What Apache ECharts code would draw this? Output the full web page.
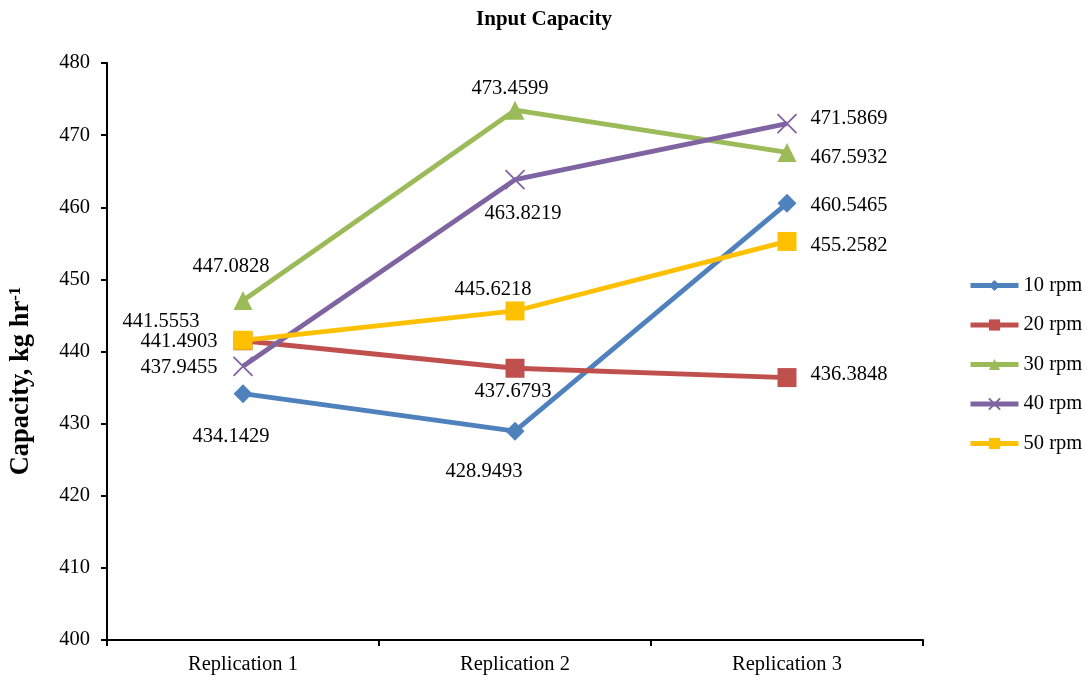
<!DOCTYPE html>
<html>
<head>
<meta charset="utf-8">
<title>Input Capacity</title>
<script src="https://cdn.jsdelivr.net/npm/echarts@6/dist/echarts.min.js"></script>
<style>
  html, body { margin: 0; padding: 0; background: #fff; }
  #chart { width: 1088px; height: 680px; }
</style>
</head>
<body>
<div id="chart"></div>
<script>
// Categories and measured capacities (kg/hr) per drum speed
var categories = ['Replication 1', 'Replication 2', 'Replication 3'];
var seriesNames = ['10 rpm', '20 rpm', '30 rpm', '40 rpm', '50 rpm'];
var rpm10 = [434.1429, 428.9493, 460.5465];
var rpm20 = [441.4903, 437.6793, 436.3848];
var rpm30 = [447.0828, 473.4599, 467.5932];
var rpm40 = [437.9455, 463.8219, 471.5869];
var rpm50 = [441.5553, 445.6218, 455.2582];
var yTicks = { min: 400, max: 480, step: 10 };

// Label placement (pixel offset of each value label from its point)
var labelOffsets = [
  [[-12, 43], [-31, 40], [62, 2]],
  [[-64, 1], [-2, 23], [62, -3]],
  [[-12, -34], [-5, -22], [62, 5]],
  [[-64, 1], [8, 34], [62, -5]],
  [[-82, -19], [-22, -21], [62, 4]]
];

var colors = ['#4F81BD', '#C0504D', '#9BBB59', '#8064A2', '#FFC000'];
var symbols = ['diamond', 'rect', 'triangle', 'path://M0,0L10,10M10,0L0,10', 'rect'];
var values = [rpm10, rpm20, rpm30, rpm40, rpm50];
var FONT = "'Liberation Serif', 'Times New Roman', serif";

var series = values.map(function (vals, i) {
  var isCross = i === 3;
  return {
    name: seriesNames[i],
    type: 'line',
    symbol: symbols[i],
    symbolSize: 19,
    color: colors[i],
    lineStyle: { width: 4.8, color: colors[i] },
    itemStyle: {
      color: isCross ? 'rgba(0,0,0,0)' : colors[i],
      borderColor: colors[i],
      borderWidth: isCross ? 1.8 : 0
    },
    label: {
      show: true,
      position: 'inside',
      fontFamily: FONT,
      fontSize: 20.5,
      color: '#000'
    },
    emphasis: { disabled: true },
    // later series draw over earlier ones
    z: 2 + i,
    data: vals.map(function (v, j) {
      return { value: v, label: { offset: labelOffsets[i][j] } };
    })
  };
});

var chart = echarts.init(document.getElementById('chart'), null, { renderer: 'canvas' });
chart.setOption({
  backgroundColor: '#fff',
  animation: false,
  title: {
    text: 'Input Capacity',
    left: 'center',
    top: 4,
    textStyle: { fontFamily: FONT, fontSize: 21, fontWeight: 'bold', color: '#000' }
  },
  grid: { left: 107, right: 165, top: 63, bottom: 40 },
  legend: {
    orient: 'vertical',
    left: 963,
    top: 270,
    itemWidth: 48,
    itemHeight: 14,
    itemGap: 18.5,
    data: seriesNames,
    lineStyle: { width: 5 },
    textStyle: { fontFamily: FONT, fontSize: 20.5, color: '#000', lineHeight: 20 }
  },
  xAxis: {
    type: 'category',
    data: categories,
    boundaryGap: true,
    axisLine: { lineStyle: { color: '#000', width: 2 } },
    axisTick: { show: true, length: 6, lineStyle: { color: '#000', width: 2 } },
    axisLabel: { fontFamily: FONT, fontSize: 20.5, color: '#000', margin: 14 },
    splitLine: { show: false }
  },
  yAxis: {
    type: 'value',
    min: yTicks.min,
    max: yTicks.max,
    interval: yTicks.step,
    axisLine: { show: true, lineStyle: { color: '#000', width: 2 } },
    axisTick: { show: true, length: 6, lineStyle: { color: '#000', width: 2 } },
    axisLabel: { fontFamily: FONT, fontSize: 20.5, color: '#000', margin: 17 },
    splitLine: { show: false }
  },
  graphic: [{
    type: 'text',
    x: 21,
    y: 381,
    rotation: Math.PI / 2,
    style: {
      text: '{a|Capacity, kg hr}{s|-1}',
      align: 'center',
      verticalAlign: 'middle',
      rich: {
        a: { fontFamily: FONT, fontSize: 26.5, fontWeight: 'bold', fill: '#000' },
        s: { fontFamily: FONT, fontSize: 17, fontWeight: 'bold', fill: '#000', verticalAlign: 'top' }
      }
    }
  }],
  series: series
});
</script>
</body>
</html>
